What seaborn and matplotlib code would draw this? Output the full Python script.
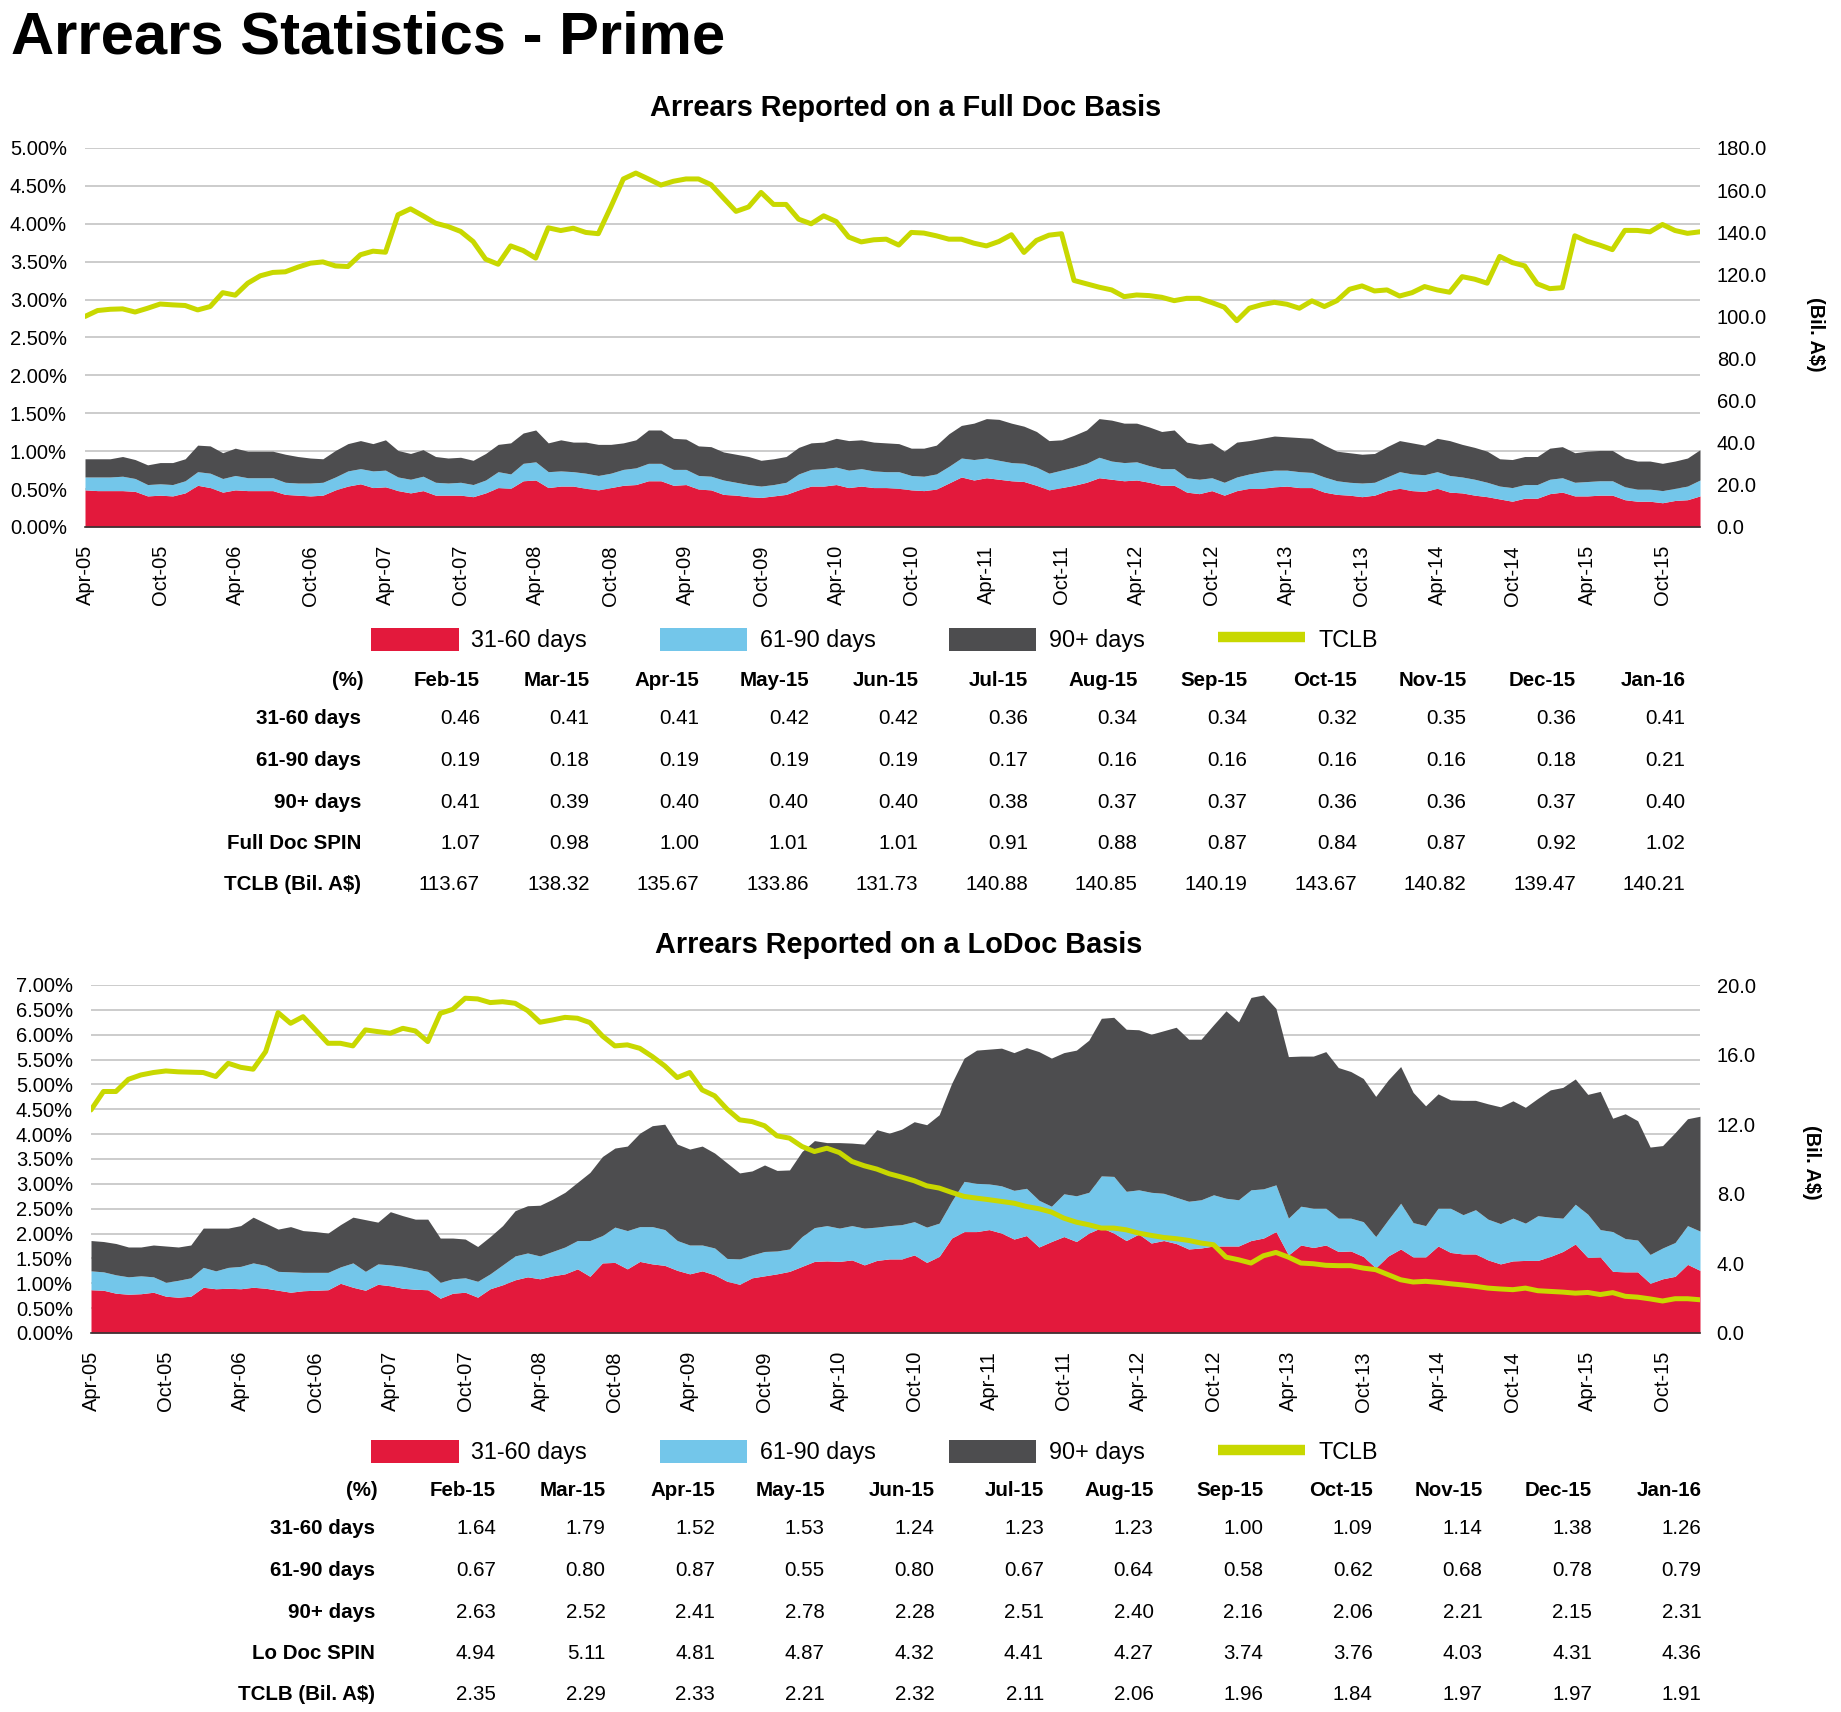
import numpy as np
import pandas as pd
import seaborn as sns
import matplotlib.pyplot as plt
from matplotlib.patches import Patch
from matplotlib.lines import Line2D
from matplotlib.ticker import FuncFormatter, MultipleLocator

# monthly axis Apr-05 .. Jan-16
months = pd.date_range("2005-04-01", "2016-01-01", freq="MS")
month_labels = [m.strftime("%b-%y") for m in months]
table_months = month_labels[-12:]

# ---------- Full Doc (values in %, TCLB in Bil. A$) ----------
# Apr-05 .. Jan-15
full_3160_hist = [
    0.49, 0.48, 0.48, 0.48, 0.47, 0.41, 0.42, 0.41, 0.45, 0.55,
    0.52, 0.46, 0.49, 0.48, 0.48, 0.48, 0.43, 0.42, 0.41, 0.42,
    0.49, 0.54, 0.57, 0.52, 0.53, 0.48, 0.45, 0.48, 0.42, 0.42,
    0.42, 0.40, 0.45, 0.52, 0.51, 0.61, 0.62, 0.52, 0.54, 0.54,
    0.51, 0.49, 0.52, 0.55, 0.56, 0.61, 0.61, 0.55, 0.56, 0.50,
    0.49, 0.43, 0.42, 0.40, 0.39, 0.41, 0.43, 0.49, 0.54, 0.54,
    0.56, 0.52, 0.54, 0.52, 0.52, 0.51, 0.49, 0.48, 0.50, 0.58,
    0.66, 0.62, 0.65, 0.63, 0.61, 0.60, 0.55, 0.49, 0.52, 0.55,
    0.59, 0.65, 0.63, 0.61, 0.62, 0.59, 0.55, 0.55, 0.46, 0.44,
    0.48, 0.42, 0.48, 0.51, 0.51, 0.53, 0.54, 0.52, 0.52, 0.46,
    0.43, 0.42, 0.40, 0.42, 0.48, 0.51, 0.48, 0.47, 0.51, 0.46,
    0.45, 0.42, 0.40, 0.37, 0.34, 0.38, 0.38, 0.44]
full_6190_hist = [
    0.17, 0.18, 0.18, 0.19, 0.17, 0.15, 0.15, 0.15, 0.16, 0.18,
    0.19, 0.18, 0.19, 0.17, 0.17, 0.17, 0.16, 0.16, 0.17, 0.17,
    0.17, 0.20, 0.20, 0.22, 0.22, 0.18, 0.18, 0.19, 0.17, 0.16,
    0.17, 0.16, 0.17, 0.21, 0.19, 0.23, 0.24, 0.21, 0.20, 0.19,
    0.20, 0.19, 0.19, 0.21, 0.22, 0.23, 0.23, 0.21, 0.20, 0.18,
    0.18, 0.19, 0.17, 0.16, 0.15, 0.15, 0.16, 0.21, 0.22, 0.23,
    0.23, 0.23, 0.23, 0.22, 0.21, 0.22, 0.19, 0.19, 0.20, 0.22,
    0.25, 0.27, 0.26, 0.25, 0.24, 0.24, 0.24, 0.22, 0.23, 0.24,
    0.25, 0.27, 0.24, 0.24, 0.24, 0.22, 0.22, 0.22, 0.19, 0.19,
    0.17, 0.17, 0.18, 0.19, 0.22, 0.22, 0.21, 0.21, 0.20, 0.20,
    0.18, 0.17, 0.18, 0.17, 0.18, 0.22, 0.22, 0.22, 0.22, 0.22,
    0.21, 0.21, 0.19, 0.17, 0.18, 0.18, 0.18, 0.19]
full_90_hist = [
    0.24, 0.24, 0.24, 0.26, 0.25, 0.26, 0.28, 0.29, 0.29, 0.35,
    0.36, 0.34, 0.36, 0.35, 0.35, 0.35, 0.37, 0.35, 0.33, 0.31,
    0.35, 0.36, 0.37, 0.36, 0.40, 0.35, 0.34, 0.35, 0.34, 0.33,
    0.33, 0.32, 0.35, 0.36, 0.41, 0.40, 0.42, 0.38, 0.41, 0.39,
    0.41, 0.41, 0.38, 0.35, 0.37, 0.44, 0.44, 0.41, 0.40, 0.39,
    0.39, 0.37, 0.37, 0.37, 0.34, 0.34, 0.34, 0.35, 0.35, 0.35,
    0.38, 0.39, 0.38, 0.38, 0.38, 0.37, 0.36, 0.37, 0.38, 0.43,
    0.43, 0.48, 0.52, 0.54, 0.52, 0.49, 0.47, 0.43, 0.40, 0.42,
    0.44, 0.51, 0.54, 0.52, 0.51, 0.51, 0.49, 0.51, 0.47, 0.46,
    0.46, 0.41, 0.46, 0.44, 0.44, 0.45, 0.44, 0.45, 0.45, 0.42,
    0.39, 0.39, 0.38, 0.38, 0.40, 0.41, 0.41, 0.39, 0.44, 0.46,
    0.43, 0.42, 0.41, 0.36, 0.37, 0.37, 0.37, 0.41]
full_tclb_hist = [
    100.0, 102.8, 103.4, 103.6, 102.1, 103.9, 105.9, 105.5, 105.2, 103.1,
    104.7, 111.3, 110.1, 115.8, 119.3, 120.9, 121.2, 123.4, 125.3, 125.9,
    124.0, 123.7, 129.3, 131.0, 130.5, 148.3, 151.1, 147.8, 144.3, 142.7,
    140.4, 135.6, 127.2, 124.8, 133.5, 131.3, 127.7, 142.1, 140.8, 141.9,
    139.9, 139.3, 152.0, 165.3, 168.1, 165.3, 162.4, 164.2, 165.3, 165.3,
    162.6, 156.2, 149.9, 152.0, 158.9, 153.2, 153.2, 146.2, 144.0, 147.8,
    145.1, 137.7, 135.4, 136.4, 136.7, 133.9, 139.9, 139.6, 138.3, 136.7,
    136.7, 134.8, 133.5, 135.6, 138.8, 130.4, 136.1, 138.6, 139.3, 117.1,
    115.5, 113.9, 112.6, 109.4, 110.2, 109.9, 109.1, 107.5, 108.6, 108.6,
    106.6, 104.4, 98.0, 103.9, 105.6, 106.7, 105.8, 103.9, 107.4, 104.7,
    107.5, 112.9, 114.5, 112.1, 112.6, 109.7, 111.3, 114.2, 112.6, 111.5,
    118.9, 117.7, 115.8, 128.5, 125.6, 124.0, 115.5, 113.2]

# Feb-15 .. Jan-16 (table)
full_3160_tbl = [0.46, 0.41, 0.41, 0.42, 0.42, 0.36, 0.34, 0.34, 0.32, 0.35, 0.36, 0.41]
full_6190_tbl = [0.19, 0.18, 0.19, 0.19, 0.19, 0.17, 0.16, 0.16, 0.16, 0.16, 0.18, 0.21]
full_90_tbl = [0.41, 0.39, 0.40, 0.40, 0.40, 0.38, 0.37, 0.37, 0.36, 0.36, 0.37, 0.40]
full_spin_tbl = [1.07, 0.98, 1.00, 1.01, 1.01, 0.91, 0.88, 0.87, 0.84, 0.87, 0.92, 1.02]
full_tclb_tbl = [113.67, 138.32, 135.67, 133.86, 131.73, 140.88, 140.85, 140.19,
                 143.67, 140.82, 139.47, 140.21]

# ---------- Lo Doc ----------
lo_3160_hist = [
    0.87, 0.86, 0.80, 0.78, 0.79, 0.82, 0.74, 0.72, 0.74, 0.92,
    0.89, 0.90, 0.89, 0.92, 0.90, 0.86, 0.82, 0.85, 0.86, 0.87,
    1.00, 0.92, 0.86, 0.98, 0.95, 0.90, 0.88, 0.87, 0.70, 0.80,
    0.82, 0.72, 0.89, 0.97, 1.07, 1.13, 1.09, 1.15, 1.19, 1.29,
    1.14, 1.41, 1.42, 1.29, 1.44, 1.39, 1.36, 1.26, 1.19, 1.25,
    1.17, 1.04, 0.98, 1.11, 1.15, 1.19, 1.24, 1.34, 1.44, 1.45,
    1.44, 1.47, 1.37, 1.46, 1.49, 1.49, 1.57, 1.42, 1.54, 1.91,
    2.04, 2.04, 2.08, 2.01, 1.89, 1.96, 1.73, 1.84, 1.94, 1.84,
    2.01, 2.12, 2.01, 1.86, 1.99, 1.81, 1.86, 1.80, 1.69, 1.71,
    1.75, 1.75, 1.75, 1.86, 1.91, 2.04, 1.57, 1.77, 1.72, 1.77,
    1.64, 1.65, 1.54, 1.31, 1.55, 1.69, 1.53, 1.53, 1.75, 1.62,
    1.59, 1.59, 1.47, 1.39, 1.45, 1.46, 1.46, 1.54]
lo_6190_hist = [
    0.38, 0.37, 0.37, 0.35, 0.36, 0.31, 0.28, 0.34, 0.37, 0.40,
    0.36, 0.42, 0.45, 0.49, 0.46, 0.38, 0.41, 0.37, 0.36, 0.35,
    0.33, 0.49, 0.38, 0.41, 0.42, 0.44, 0.41, 0.37, 0.32, 0.29,
    0.29, 0.32, 0.30, 0.40, 0.48, 0.48, 0.46, 0.49, 0.54, 0.57,
    0.72, 0.55, 0.71, 0.77, 0.70, 0.75, 0.72, 0.60, 0.58, 0.52,
    0.54, 0.46, 0.51, 0.46, 0.49, 0.46, 0.45, 0.60, 0.68, 0.71,
    0.67, 0.69, 0.74, 0.67, 0.67, 0.69, 0.67, 0.71, 0.67, 0.74,
    1.01, 0.97, 0.92, 0.95, 0.98, 0.95, 0.94, 0.71, 0.86, 0.92,
    0.82, 1.04, 1.14, 0.99, 0.89, 1.02, 0.95, 0.93, 0.96, 0.97,
    1.03, 0.96, 0.93, 1.02, 0.99, 0.94, 0.74, 0.78, 0.79, 0.74,
    0.67, 0.66, 0.70, 0.63, 0.73, 0.92, 0.69, 0.63, 0.76, 0.89,
    0.79, 0.89, 0.82, 0.81, 0.86, 0.75, 0.90, 0.79]
lo_90_hist = [
    0.61, 0.61, 0.63, 0.60, 0.58, 0.64, 0.73, 0.67, 0.66, 0.79,
    0.86, 0.79, 0.82, 0.92, 0.85, 0.85, 0.91, 0.84, 0.82, 0.79,
    0.85, 0.92, 1.04, 0.84, 1.07, 1.02, 1.00, 1.05, 0.89, 0.82,
    0.78, 0.70, 0.75, 0.79, 0.91, 0.95, 1.02, 1.05, 1.10, 1.17,
    1.37, 1.59, 1.59, 1.70, 1.88, 2.03, 2.12, 1.94, 1.93, 1.99,
    1.91, 1.92, 1.73, 1.69, 1.74, 1.62, 1.59, 1.71, 1.75, 1.67,
    1.72, 1.66, 1.69, 1.96, 1.86, 1.92, 2.01, 2.06, 2.18, 2.37,
    2.48, 2.68, 2.71, 2.77, 2.77, 2.83, 2.99, 2.98, 2.84, 2.93,
    3.06, 3.17, 3.20, 3.26, 3.22, 3.18, 3.27, 3.42, 3.26, 3.23,
    3.42, 3.77, 3.58, 3.87, 3.90, 3.55, 3.25, 3.02, 3.06, 3.15,
    3.03, 2.95, 2.88, 2.82, 2.81, 2.75, 2.62, 2.41, 2.30, 2.18,
    2.30, 2.20, 2.32, 2.35, 2.36, 2.33, 2.36, 2.56]
lo_tclb_hist = [
    12.82, 13.88, 13.88, 14.58, 14.83, 14.97, 15.06, 15.01, 14.99, 14.97,
    14.74, 15.50, 15.27, 15.16, 16.17, 18.41, 17.80, 18.18, 17.42, 16.65,
    16.65, 16.50, 17.42, 17.32, 17.23, 17.51, 17.36, 16.75, 18.37, 18.60,
    19.24, 19.20, 18.99, 19.04, 18.95, 18.53, 17.86, 17.99, 18.14, 18.09,
    17.84, 17.07, 16.50, 16.56, 16.36, 15.89, 15.35, 14.68, 14.97, 13.97,
    13.63, 12.86, 12.25, 12.15, 11.91, 11.33, 11.20, 10.72, 10.43, 10.62,
    10.37, 9.86, 9.61, 9.42, 9.15, 8.96, 8.75, 8.46, 8.33, 8.08,
    7.85, 7.75, 7.66, 7.56, 7.46, 7.27, 7.14, 6.95, 6.60, 6.37,
    6.22, 6.03, 6.03, 5.93, 5.74, 5.61, 5.49, 5.42, 5.32, 5.17,
    5.07, 4.36, 4.21, 4.02, 4.44, 4.63, 4.36, 4.02, 3.98, 3.89,
    3.87, 3.87, 3.73, 3.64, 3.35, 3.06, 2.93, 2.97, 2.91, 2.83,
    2.76, 2.68, 2.58, 2.53, 2.49, 2.58, 2.43, 2.39]

lo_3160_tbl = [1.64, 1.79, 1.52, 1.53, 1.24, 1.23, 1.23, 1.00, 1.09, 1.14, 1.38, 1.26]
lo_6190_tbl = [0.67, 0.80, 0.87, 0.55, 0.80, 0.67, 0.64, 0.58, 0.62, 0.68, 0.78, 0.79]
lo_90_tbl = [2.63, 2.52, 2.41, 2.78, 2.28, 2.51, 2.40, 2.16, 2.06, 2.21, 2.15, 2.31]
lo_spin_tbl = [4.94, 5.11, 4.81, 4.87, 4.32, 4.41, 4.27, 3.74, 3.76, 4.03, 4.31, 4.36]
lo_tclb_tbl = [2.35, 2.29, 2.33, 2.21, 2.32, 2.11, 2.06, 1.96, 1.84, 1.97, 1.97, 1.91]

series_names = ["31-60 days", "61-90 days", "90+ days", "TCLB"]

RED = "#E3193C"
BLUE = "#73C6EA"
DARK = "#4D4D4F"
GREEN = "#C8D800"
GRID = "#C4C4C4"

sns.set_theme(style="white")
plt.rcParams["font.family"] = ["Liberation Sans", "DejaVu Sans"]
plt.rcParams["text.color"] = "black"
plt.rcParams["axes.labelcolor"] = "black"

W, H = 1841, 1712
fig = plt.figure(figsize=(W / 100, H / 100), dpi=100)


def fx(px):
    return px / W


def fy(py):
    return 1 - py / H


def draw_panel(left, top, right, bottom, s1, s2, s3, tclb, pct_max, bil_max, bil_step):
    ax = fig.add_axes([fx(left), fy(bottom), (right - left) / W, (bottom - top) / H])
    x = np.arange(len(months))
    ax.stackplot(x, s1, s2, s3, colors=[RED, BLUE, DARK], linewidth=0)
    ax.set_xlim(0, len(months) - 1)
    ax.set_ylim(0, pct_max)
    ax.yaxis.set_major_locator(MultipleLocator(0.5))
    ax.yaxis.set_major_formatter(FuncFormatter(lambda v, p: f"{v:.2f}%"))
    ax.grid(axis="y", color=GRID, linewidth=1.2)
    ax.grid(axis="x", visible=False)
    ax.set_axisbelow(True)
    ax.set_xticks(x[::6])
    ax.set_xticklabels(month_labels[::6], rotation=90)
    ax.tick_params(axis="both", length=0, labelsize=14.5, pad=13, colors="black")
    for s in ["top", "right", "left"]:
        ax.spines[s].set_visible(False)
    ax.spines["bottom"].set_color("#333333")
    ax.spines["bottom"].set_linewidth(1.2)

    ax2 = ax.twinx()
    sns.lineplot(x=x, y=tclb, ax=ax2, color=GREEN, linewidth=3.6)
    ax2.set_ylim(0, bil_max)
    ax2.yaxis.set_major_locator(MultipleLocator(bil_step))
    ax2.yaxis.set_major_formatter(FuncFormatter(lambda v, p: f"{v:.1f}"))
    ax2.tick_params(axis="y", length=0, labelsize=14.5, pad=12, colors="black")
    ax2.grid(False)
    ax2.set_ylabel("")
    for s in ax2.spines.values():
        s.set_visible(False)
    return ax


def draw_legend(y, x0):
    handles = [Patch(facecolor=RED, edgecolor="none"),
               Patch(facecolor=BLUE, edgecolor="none"),
               Patch(facecolor=DARK, edgecolor="none"),
               Line2D([], [], color=GREEN, linewidth=7.5, solid_capstyle="butt")]
    fig.legend(handles, series_names, loc="center left", bbox_to_anchor=(fx(x0), fy(y)),
               ncol=4, frameon=False, fontsize=16.8, handlelength=3.75, handleheight=1.15,
               handletextpad=0.55, columnspacing=3.12, borderpad=0, borderaxespad=0)


def draw_table(header_y, label_right, col_right0, labels, rows):
    step = 109.6
    fig.text(fx(label_right + 3), fy(header_y), "(%)", ha="right", va="center",
             fontsize=14.8, fontweight="bold")
    for j, m in enumerate(table_months):
        fig.text(fx(col_right0 + step * j), fy(header_y), m, ha="right", va="center",
                 fontsize=14.8, fontweight="bold")
    for i, (lab, vals) in enumerate(zip(labels, rows)):
        y = header_y + 39 + 41.5 * i
        fig.text(fx(label_right), fy(y), lab, ha="right", va="center",
                 fontsize=14.8, fontweight="bold")
        for j, v in enumerate(vals):
            fig.text(fx(col_right0 + step * j), fy(y), f"{v:.2f}", ha="right", va="center",
                     fontsize=14.8)


# title
fig.text(fx(11), fy(53), "Arrears Statistics - Prime", fontsize=43, fontweight="bold",
         va="baseline", ha="left")

# ---------- Full Doc panel ----------
fig.text(fx(906), fy(116), "Arrears Reported on a Full Doc Basis", fontsize=20.8,
         fontweight="bold", ha="center", va="baseline")
draw_panel(85, 148, 1700, 527,
           full_3160_hist + full_3160_tbl, full_6190_hist + full_6190_tbl,
           full_90_hist + full_90_tbl, full_tclb_hist + full_tclb_tbl,
           5.0, 180, 20)
fig.text(fx(1815), fy(334), "(Bil. A$)", rotation=270, fontsize=14.3, fontweight="bold",
         ha="center", va="center")
draw_legend(640, 371)
draw_table(680, 361, 480,
           ["31-60 days", "61-90 days", "90+ days", "Full Doc SPIN", "TCLB (Bil. A$)"],
           [full_3160_tbl, full_6190_tbl, full_90_tbl, full_spin_tbl, full_tclb_tbl])

# ---------- Lo Doc panel ----------
fig.text(fx(899), fy(953), "Arrears Reported on a LoDoc Basis", fontsize=20.8,
         fontweight="bold", ha="center", va="baseline")
draw_panel(91, 985, 1700, 1333,
           lo_3160_hist + lo_3160_tbl, lo_6190_hist + lo_6190_tbl,
           lo_90_hist + lo_90_tbl, lo_tclb_hist + lo_tclb_tbl,
           7.0, 20, 4)
fig.text(fx(1811), fy(1162), "(Bil. A$)", rotation=270, fontsize=14.3, fontweight="bold",
         ha="center", va="center")
draw_legend(1452, 371)
draw_table(1490, 375, 496,
           ["31-60 days", "61-90 days", "90+ days", "Lo Doc SPIN", "TCLB (Bil. A$)"],
           [lo_3160_tbl, lo_6190_tbl, lo_90_tbl, lo_spin_tbl, lo_tclb_tbl])

fig.savefig("out.png", dpi=100)
